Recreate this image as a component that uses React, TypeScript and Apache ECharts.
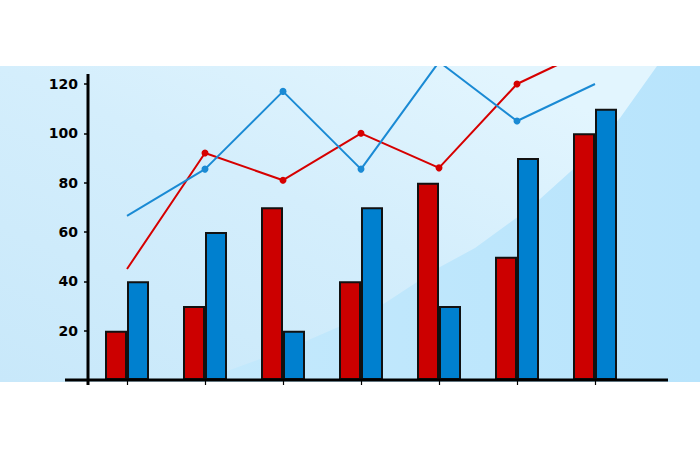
import React, { useEffect, useRef } from "react";
import * as echarts from "echarts";

const categories = ["1", "2", "3", "4", "5", "6", "7"];
const redBars = [20, 30, 70, 40, 80, 50, 100];
const blueBars = [40, 60, 20, 70, 30, 90, 110];
const redLine = [45, 92, 81, 100, 86, 120, 135];
const blueLine = [66.5, 85.5, 117, 85.5, 129, 105, 120];
const yTicks = [0, 20, 40, 60, 80, 100, 120];

const curvePts: number[][] = [
  [190, 382], [230, 370], [290, 348], [350, 322], [385, 303], [440, 267],
  [475, 248], [530, 208], [580, 163], [620, 118], [657, 66], [700, 66], [700, 382],
];

function lineData(vals: number[]) {
  return vals.map((v, i) =>
    i === 0 || i === vals.length - 1 ? { value: v, symbol: "none" } : { value: v }
  );
}

export default function App() {
  const ref = useRef<HTMLDivElement>(null);
  useEffect(() => {
    if (!ref.current) return;
    const chart = echarts.init(ref.current, null, { renderer: "svg" });
    chart.setOption({
      animation: false,
      backgroundColor: "#ffffff",
      grid: { left: 88, right: 66, top: 84, bottom: 70, containLabel: false },
      xAxis: {
        type: "category",
        data: categories,
        axisLine: { show: false },
        axisTick: { show: true, alignWithLabel: true, length: 5, lineStyle: { color: "#000", width: 1.2 } },
        axisLabel: { show: false },
        splitLine: { show: false },
      },
      yAxis: {
        type: "value",
        min: yTicks[0],
        max: yTicks[yTicks.length - 1],
        interval: 20,
        axisLine: { show: false },
        axisTick: { show: true, length: 4, lineStyle: { color: "#000", width: 1.5 } },
        splitLine: { show: false },
        axisLabel: {
          margin: 10,
          color: "#000",
          fontFamily: "DejaVu Sans",
          fontWeight: "bold",
          fontSize: 14,
          formatter: (v: number) => (v === 0 ? "" : String(v)),
        },
      },
      graphic: [
        {
          type: "rect",
          z: -20,
          silent: true,
          shape: { x: 0, y: 66, width: 700, height: 316 },
          style: {
            fill: {
              type: "linear", x: 0, y: 1, x2: 1, y2: 0,
              colorStops: [
                { offset: 0, color: "#c8e8fa" },
                { offset: 0.5, color: "#d4eefc" },
                { offset: 0.85, color: "#e2f5fe" },
                { offset: 1, color: "#e2f5fe" },
              ],
            },
          },
        },
        {
          type: "polygon",
          z: -19,
          silent: true,
          shape: { points: curvePts },
          style: {
            fill: {
              type: "linear", x: 0, y: 0, x2: 1, y2: 0,
              colorStops: [
                { offset: 0, color: "#c4e9fc" },
                { offset: 1, color: "#b8e4fc" },
              ],
            },
          },
        },
        {
          type: "rect",
          z: 100,
          silent: true,
          shape: { x: 0, y: 0, width: 700, height: 66 },
          style: { fill: "#ffffff" },
        },
        {
          type: "line",
          z: 60,
          silent: true,
          shape: { x1: 65, y1: 380, x2: 668, y2: 380 },
          style: { stroke: "#000", lineWidth: 3 },
        },
        {
          type: "line",
          z: 60,
          silent: true,
          shape: { x1: 88, y1: 74, x2: 88, y2: 385 },
          style: { stroke: "#000", lineWidth: 3 },
        },
      ],
      series: [
        {
          type: "bar",
          data: redBars,
          barWidth: 22,
          barGap: "0%",
          itemStyle: { color: "#cc0000", borderColor: "#111", borderWidth: 2 },
          z: 2,
        },
        {
          type: "bar",
          data: blueBars,
          barWidth: 22,
          barGap: "0%",
          itemStyle: { color: "#0080cf", borderColor: "#111", borderWidth: 2 },
          z: 2,
        },
        {
          type: "line",
          data: lineData(redLine),
          clip: false,
          symbol: "circle",
          symbolSize: 7,
          lineStyle: { color: "#d60000", width: 2 },
          itemStyle: { color: "#d60000" },
          z: 5,
        },
        {
          type: "line",
          data: lineData(blueLine),
          clip: false,
          symbol: "circle",
          symbolSize: 7,
          lineStyle: { color: "#1a8ad4", width: 2 },
          itemStyle: { color: "#1a8ad4" },
          z: 5,
        },
      ],
    });
    return () => chart.dispose();
  }, []);
  return (
    <div
      ref={ref}
      style={{ position: "fixed", left: 0, top: 0, width: 700, height: 450 }}
    />
  );
}
